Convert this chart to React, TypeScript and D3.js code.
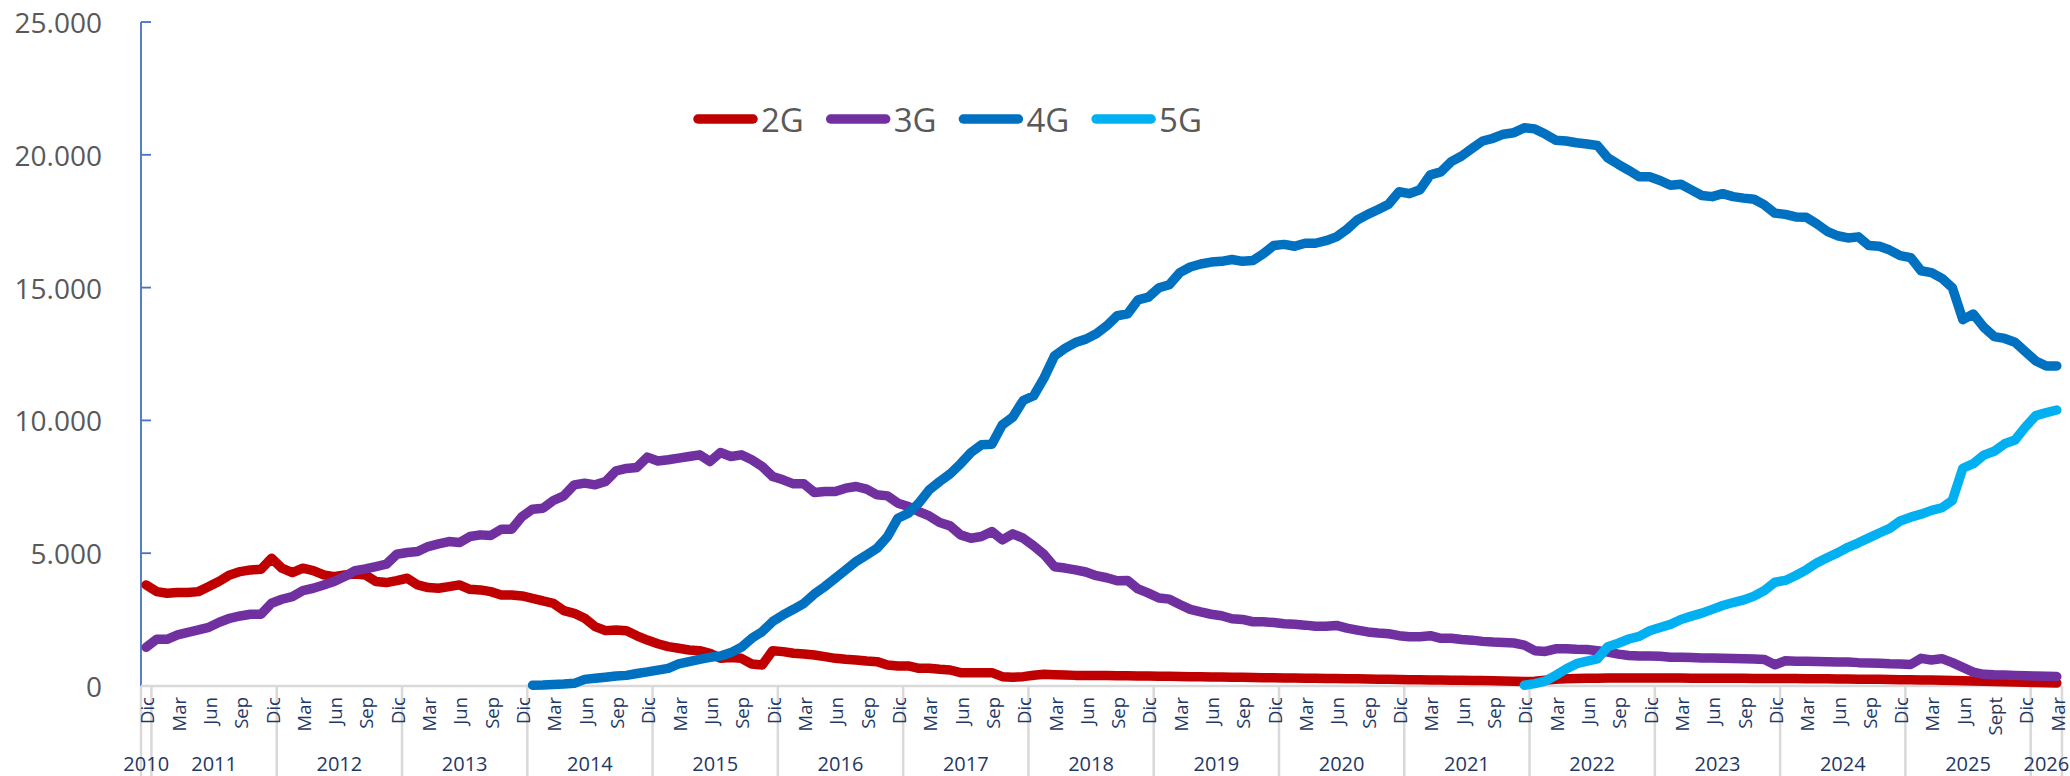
import React from "react";
import * as d3 from "d3";

// ---------- categories ----------
const FIRST_YEAR = 2010;
const FIRST_MONTH = 11; // 0-based: December
const N_MONTHS = 184; // Dic 2010 .. Mar 2026
const MONTH_TICK_LABELS: Record<number, string> = { 11: "Dic", 2: "Mar", 5: "Jun", 8: "Sep" };
const MONTH_LABEL_OVERRIDES: Record<string, string> = { "2025-8": "Sept" };
const YEAR_LABELS = ["2010", "2011", "2012", "2013", "2014", "2015", "2016", "2017", "2018", "2019", "2020", "2021", "2022", "2023", "2024", "2025", "2026"];
const Y_TICKS = [0, 5000, 10000, 15000, 20000, 25000];

// ---------- series values (thousands of lines) ----------
const values2G = [
  3806, 3554, 3492, 3517, 3517, 3554, 3743, 3944, 4182, 4308, 4371, 4396,
  4810, 4434, 4270, 4434, 4346, 4182, 4120, 4182, 4220, 4182, 3932, 3894,
  3969, 4057, 3806, 3705, 3680, 3743, 3806, 3642, 3617, 3554, 3429, 3429,
  3392, 3303, 3203, 3115, 2838, 2738, 2550, 2235, 2085, 2110, 2080, 1890,
  1730, 1590, 1482, 1419, 1356, 1331, 1231, 1042, 1068, 1042, 829, 791,
  1331, 1294, 1231, 1206, 1168, 1105, 1042, 1005, 980, 942, 917, 791,
  754, 754, 666, 666, 628, 603, 502, 502, 502, 502, 352, 327,
  352, 402, 440, 427, 410, 400, 400, 395, 395, 390, 385, 380,
  375, 370, 365, 360, 352, 345, 340, 335, 330, 325, 320, 315,
  310, 305, 300, 295, 290, 285, 280, 275, 270, 262, 255, 250,
  245, 240, 235, 230, 225, 220, 215, 210, 205, 200, 190, 180,
  165, 180, 220, 250, 270, 280, 290, 295, 300, 300, 305, 305,
  300, 300, 300, 298, 295, 295, 292, 290, 290, 288, 285, 285,
  282, 280, 278, 275, 272, 270, 265, 262, 258, 255, 250, 245,
  240, 235, 230, 225, 220, 210, 200, 190, 180, 170, 160, 150,
  140, 130, 120, 110,
];

const values3G = [
  1457, 1758, 1758, 1922, 2022, 2110, 2210, 2399, 2550, 2637, 2700, 2700,
  3115, 3266, 3366, 3592, 3680, 3806, 3932, 4120, 4346, 4409, 4497, 4585,
  4961, 5024, 5062, 5250, 5351, 5439, 5401, 5627, 5690, 5665, 5903, 5903,
  6380, 6657, 6694, 6983, 7159, 7574, 7637, 7574, 7700, 8101, 8190, 8230,
  8616, 8470, 8516, 8578, 8641, 8704, 8452, 8792, 8641, 8704, 8516, 8265,
  7888, 7762, 7611, 7611, 7285, 7322, 7322, 7448, 7511, 7411, 7197, 7159,
  6883, 6757, 6569, 6405, 6154, 6029, 5690, 5564, 5627, 5815, 5501, 5727,
  5564, 5275, 4950, 4490, 4440, 4373, 4293, 4153, 4075, 3961, 3970, 3655,
  3497, 3312, 3270, 3071, 2886, 2788, 2702, 2645, 2532, 2505, 2419, 2419,
  2389, 2347, 2321, 2291, 2249, 2249, 2280, 2178, 2106, 2035, 1993, 1967,
  1895, 1854, 1854, 1895, 1797, 1797, 1752, 1726, 1680, 1654, 1640, 1620,
  1541, 1330, 1300, 1400, 1400, 1380, 1371, 1330, 1275, 1200, 1150, 1130,
  1130, 1120, 1080, 1085, 1070, 1055, 1050, 1045, 1040, 1030, 1020, 1000,
  800, 950, 930, 930, 920, 910, 905, 900, 880, 870, 860, 840,
  830, 810, 1040, 980, 1030, 880, 700, 520, 440, 420, 410, 400,
  385, 375, 365, 355,
];

const START_4G = 37; // Ene 2014
const values4G = [
  30, 35, 60, 75, 100, 250, 290, 330, 377, 400, 470,
  530, 600, 666, 829, 917, 1005, 1080, 1130, 1256, 1457, 1796, 2047,
  2424, 2675, 2889, 3115, 3467, 3743, 4057, 4371, 4685, 4936, 5187, 5627,
  6317, 6506, 6883, 7385, 7700, 7988, 8365, 8792, 9081, 9106, 9834, 10123,
  10750, 10927, 11600, 12430, 12710, 12930, 13060, 13260, 13560, 13940, 14010, 14540,
  14642, 14996, 15109, 15565, 15776, 15889, 15961, 15988, 16059, 15988, 16017, 16273,
  16583, 16627, 16556, 16670, 16670, 16767, 16910, 17193, 17547, 17758, 17943, 18142,
  18610, 18538, 18681, 19246, 19359, 19744, 19955, 20238, 20520, 20622, 20776, 20833,
  21017, 20976, 20780, 20550, 20520, 20452, 20407, 20351, 19883, 19642, 19416, 19175,
  19175, 19035, 18851, 18892, 18681, 18467, 18425, 18538, 18425, 18369, 18327, 18112,
  17803, 17758, 17660, 17650, 17404, 17121, 16952, 16869, 16910, 16583, 16556, 16413,
  16202, 16131, 15633, 15565, 15350, 14996, 13794, 14005, 13512, 13157, 13086, 12943,
  12588, 12234, 12050, 12050,
];

const START_5G = 132; // Dic 2021
const values5G = [
  30, 90, 180, 400, 640, 840, 940, 1020, 1480, 1610, 1770, 1870,
  2080, 2204, 2321, 2505, 2630, 2743, 2886, 3029, 3142, 3240, 3384, 3595,
  3907, 3975, 4160, 4375, 4627, 4827, 5011, 5222, 5392, 5577, 5761, 5931,
  6213, 6356, 6469, 6613, 6711, 6993, 8199, 8369, 8692, 8836, 9118, 9261,
  9755, 10181, 10294, 10392,
];

const SERIES_NAMES = ["2G", "3G", "4G", "5G"];
const SERIES_COLORS = ["#C00000", "#7030A0", "#0070C0", "#00B0F0"];

// ---------- layout ----------
const W = 2070;
const H = 776;
const PLOT = { left: 141, right: 2062, top: 22, bottom: 686 };
const FONT = "'Open Sans', 'Liberation Sans', Arial, sans-serif";

function pad(start: number, vals: number[]): (number | null)[] {
  return d3.range(N_MONTHS).map((i) => (i >= start && i - start < vals.length ? vals[i - start] : null));
}

export default function App() {
  const idx = d3.range(N_MONTHS);
  const cats = idx.map((i) => {
    const t = FIRST_MONTH + i;
    return { m: t % 12, y: FIRST_YEAR + Math.floor(t / 12) };
  });

  const x = d3.scaleBand<number>().domain(idx).range([PLOT.left, PLOT.right]).paddingInner(0).paddingOuter(0);
  const bw = x.bandwidth();
  const cx = (i: number) => (x(i) as number) + bw / 2;
  const y = d3.scaleLinear().domain([0, 25000]).range([PLOT.bottom, PLOT.top]);
  const fmt = d3
    .formatLocale({ decimal: ",", thousands: ".", grouping: [3], currency: ["", "€"] })
    .format(",.0f");

  const seriesData = [
    pad(0, values2G),
    pad(0, values3G),
    pad(START_4G, values4G),
    pad(START_5G, values5G),
  ];

  const line = d3
    .line<number | null>()
    .defined((d) => d != null)
    .x((_, i) => cx(i))
    .y((d) => y(d as number));

  const sepX: number[] = [PLOT.left];
  idx.forEach((i) => {
    if (cats[i].m === 11) sepX.push((x(i) as number) + bw);
  });
  sepX.push(PLOT.right);

  const yearGroups = d3.groups(idx, (i) => cats[i].y);
  const yearPos = yearGroups.map(([yr, is]) => {
    const x0 = x(is[0]) as number;
    const x1 = (x(is[is.length - 1]) as number) + bw;
    return { label: YEAR_LABELS[yr - FIRST_YEAR], x: (x0 + x1) / 2 };
  });

  const monthTicks = idx
    .filter((i) => MONTH_TICK_LABELS[cats[i].m] !== undefined)
    .map((i) => ({
      i,
      label: MONTH_LABEL_OVERRIDES[`${cats[i].y}-${cats[i].m}`] ?? MONTH_TICK_LABELS[cats[i].m],
    }));

  const legendX0 = 698;
  const legendStep = 132.7;
  const legendY = 119;

  return (
    <div style={{ position: "absolute", left: 0, top: 0, width: W, height: H, background: "#fff" }}>
      <svg width={W} height={H} style={{ display: "block" }}>
        <rect x={0} y={0} width={W} height={H} fill="#fff" />

        <line x1={PLOT.left} x2={PLOT.left} y1={PLOT.top} y2={PLOT.bottom} stroke="#4472C4" strokeWidth={1.8} />
        {Y_TICKS.map((t) => (
          <g key={t}>
            <line x1={PLOT.left} x2={PLOT.left + 10} y1={y(t)} y2={y(t)} stroke="#4472C4" strokeWidth={1.8} />
            <text
              x={102}
              y={y(t)}
              textAnchor="end"
              dominantBaseline="central"
              fontFamily={FONT}
              fontSize={28}
              fill="#595959"
            >
              {fmt(t)}
            </text>
          </g>
        ))}

        {sepX.map((sx, k) => (
          <line key={k} x1={sx} x2={sx} y1={PLOT.bottom} y2={H} stroke="#D9D9D9" strokeWidth={2.5} />
        ))}
        <line x1={PLOT.left} x2={PLOT.right} y1={PLOT.bottom} y2={PLOT.bottom} stroke="#D9D9D9" strokeWidth={2.5} />

        {monthTicks.map(({ i, label }) => (
          <text
            key={i}
            transform={`translate(${cx(i) + 0.5},697) rotate(-90)`}
            textAnchor="end"
            dominantBaseline="central"
            fontFamily={FONT}
            fontSize={18.5}
            fill="#1F3864"
          >
            {label}
          </text>
        ))}
        {yearPos.map((p) => (
          <text key={p.label} x={p.x} y={771} textAnchor="middle" fontFamily={FONT} fontSize={20} fill="#1F3864">
            {p.label}
          </text>
        ))}

        {seriesData.map((d, k) => (
          <path
            key={SERIES_NAMES[k]}
            d={line(d) || ""}
            fill="none"
            stroke={SERIES_COLORS[k]}
            strokeWidth={9.5}
            strokeLinejoin="round"
            strokeLinecap="round"
          />
        ))}

        {SERIES_NAMES.map((name, k) => {
          const lx = legendX0 + k * legendStep;
          return (
            <g key={name}>
              <line
                x1={lx}
                x2={lx + 55}
                y1={legendY}
                y2={legendY}
                stroke={SERIES_COLORS[k]}
                strokeWidth={9.5}
                strokeLinecap="round"
              />
              <text
                x={lx + 63}
                y={legendY}
                dominantBaseline="central"
                fontFamily={FONT}
                fontSize={33}
                fill="#595959"
              >
                {name}
              </text>
            </g>
          );
        })}
      </svg>
    </div>
  );
}
